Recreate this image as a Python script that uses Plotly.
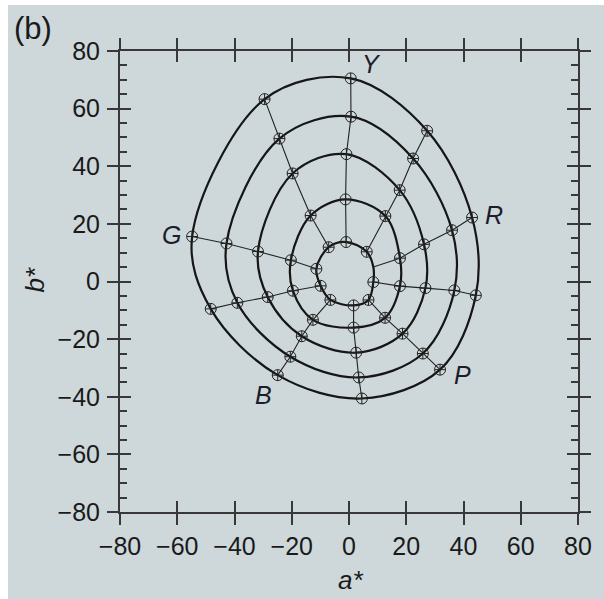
import plotly.graph_objects as go

# ---------------- data (a*, b*) ----------------
hues = ["Y", "YR", "R", "RP", "P", "PB", "B", "BG", "G", "GY"]

ring1_a = [-1.0, 6.2, 8.5, 8.5, 6.8, 1.6, -6.5, -9.9, -11.4, -7.1]
ring1_b = [13.7, 10.3, 5.0, -0.2, -6.4, -8.3, -6.4, -1.5, 4.4, 11.9]
ring2_a = [-1.2, 12.7, 17.8, 17.8, 12.6, 1.6, -12.6, -19.6, -20.3, -13.4]
ring2_b = [28.5, 22.7, 8.1, -1.6, -12.6, -16.0, -13.3, -3.2, 7.4, 22.9]
ring3_a = [-0.9, 17.7, 26.2, 26.7, 18.7, 2.5, -16.5, -28.4, -31.8, -19.7]
ring3_b = [44.2, 31.7, 12.9, -2.3, -18.1, -24.7, -19.0, -5.4, 10.4, 37.5]
ring4_a = [0.7, 22.4, 36.0, 36.8, 25.8, 3.4, -20.5, -39.0, -42.8, -24.3]
ring4_b = [57.2, 42.7, 17.8, -3.1, -25.0, -33.3, -26.1, -7.4, 13.2, 49.6]
ring5_a = [0.6, 27.3, 43.0, 44.3, 31.8, 4.5, -24.9, -48.3, -54.8, -29.5]
ring5_b = [70.5, 52.3, 22.2, -4.8, -30.6, -40.6, -32.5, -9.5, 15.6, 63.3]

# points drawn without a circle marker: (hue, ring number)
hidden_markers = [("R", 1)]

label_text = ["Y", "G", "R", "B", "P"]
label_a = [7.9, -62.0, 50.5, -29.7, 39.7]
label_b = [75.4, 16.1, 23.2, -39.3, -32.4]

tick_vals = [-80, -60, -40, -20, 0, 20, 40, 60, 80]
axis_range = [-80, 80]

# ---------------- figure ----------------
rings_a = [ring1_a, ring2_a, ring3_a, ring4_a, ring5_a]
rings_b = [ring1_b, ring2_b, ring3_b, ring4_b, ring5_b]

INK = "#161616"
BG = "#ced8da"
FONT = "Liberation Sans, Arial, Helvetica, sans-serif"

fig = go.Figure()

# spokes (one per hue, from inner to outer ring)
sx, sy = [], []
for k in range(len(hues)):
    sx += [r[k] for r in rings_a] + [None]
    sy += [r[k] for r in rings_b] + [None]
fig.add_trace(go.Scatter(x=sx, y=sy, mode="lines",
                         line=dict(color="#222222", width=1.1),
                         hoverinfo="skip", showlegend=False))

# closed rings (closure placed at the G hue)
start = hues.index("G")
for ra, rb in zip(rings_a, rings_b):
    xa = ra[start:] + ra[:start] + [ra[start]]
    yb = rb[start:] + rb[:start] + [rb[start]]
    fig.add_trace(go.Scatter(x=xa, y=yb, mode="lines",
                             line=dict(color=INK, width=2.2, shape="spline", smoothing=1.0),
                             hoverinfo="skip", showlegend=False))

# circle markers
mx, my = [], []
for ri, (ra, rb) in enumerate(zip(rings_a, rings_b)):
    for k, h in enumerate(hues):
        if (h, ri + 1) in hidden_markers:
            continue
        mx.append(ra[k])
        my.append(rb[k])
fig.add_trace(go.Scatter(x=mx, y=my, mode="markers",
                         marker=dict(symbol="circle-cross-open", size=11,
                                     color="#222222", line=dict(width=1.0, color="#222222")),
                         hoverinfo="skip", showlegend=False))

# dummy trace to activate the inner-tick axes
fig.add_trace(go.Scatter(x=[0], y=[0], xaxis="x2", yaxis="y2", mode="markers",
                         marker=dict(opacity=0), hoverinfo="skip", showlegend=False))

# hue labels
for t, a, b in zip(label_text, label_a, label_b):
    fig.add_annotation(x=a, y=b, xref="x", yref="y", text="<i>%s</i>" % t,
                       xanchor="center", yanchor="middle",
                       showarrow=False, font=dict(size=25, family=FONT, color="#1c1c2a"))

axis_common = dict(range=axis_range, showgrid=False, zeroline=False, showline=True,
                   linecolor="#383838", linewidth=2, tickvals=tick_vals,
                   tickcolor="#383838", tickwidth=1.6, ticklen=11, mirror="ticks",
                   fixedrange=True)

TICKFONT = dict(size=25, family=FONT, color="#1a1a1a")

fig.update_layout(
    width=596, height=594,
    margin=dict(l=112, r=18, t=46, b=87, pad=0),
    paper_bgcolor=BG, plot_bgcolor=BG,
    font=dict(family=FONT, color="#1a1a1a"),
    xaxis=dict(**axis_common, ticks="outside", ticklabelstandoff=0, tickfont=TICKFONT),
    yaxis=dict(**axis_common, ticks="outside", ticklabelstandoff=2, tickfont=TICKFONT),
    xaxis2=dict(**axis_common, ticks="inside", overlaying="x", anchor="y2",
                side="bottom", showticklabels=False),
    yaxis2=dict(**axis_common, ticks="inside", overlaying="y", anchor="x2",
                side="left", showticklabels=False,
                minor=dict(dtick=5, ticks="inside", ticklen=7, tickwidth=1.6,
                           tickcolor="#383838")),
    showlegend=False,
)

# panel letter and axis titles (positions relative to the plot area)
fig.add_annotation(xref="paper", yref="paper", x=(31 - 120) / 466, y=(512 - 28) / 461,
                   xanchor="center", yanchor="middle",
                   text="(b)", showarrow=False, font=dict(size=31, family=FONT, color="#1a1a1a"))
fig.add_annotation(xref="paper", yref="paper", x=(355 - 120) / 466, y=(512 - 580) / 461,
                   xanchor="center", yanchor="middle",
                   text="<i>a*</i>", showarrow=False, font=dict(size=26, family=FONT, color="#1a1a1a"))
fig.add_annotation(xref="paper", yref="paper", x=(34 - 120) / 466, y=(512 - 280) / 461,
                   xanchor="center", yanchor="middle",
                   text="<i>b*</i>", textangle=-90, showarrow=False,
                   font=dict(size=26, family=FONT, color="#1a1a1a"))

fig.write_html("out.html",
               post_script="document.body.style.margin='5px 0 0 8px';")
